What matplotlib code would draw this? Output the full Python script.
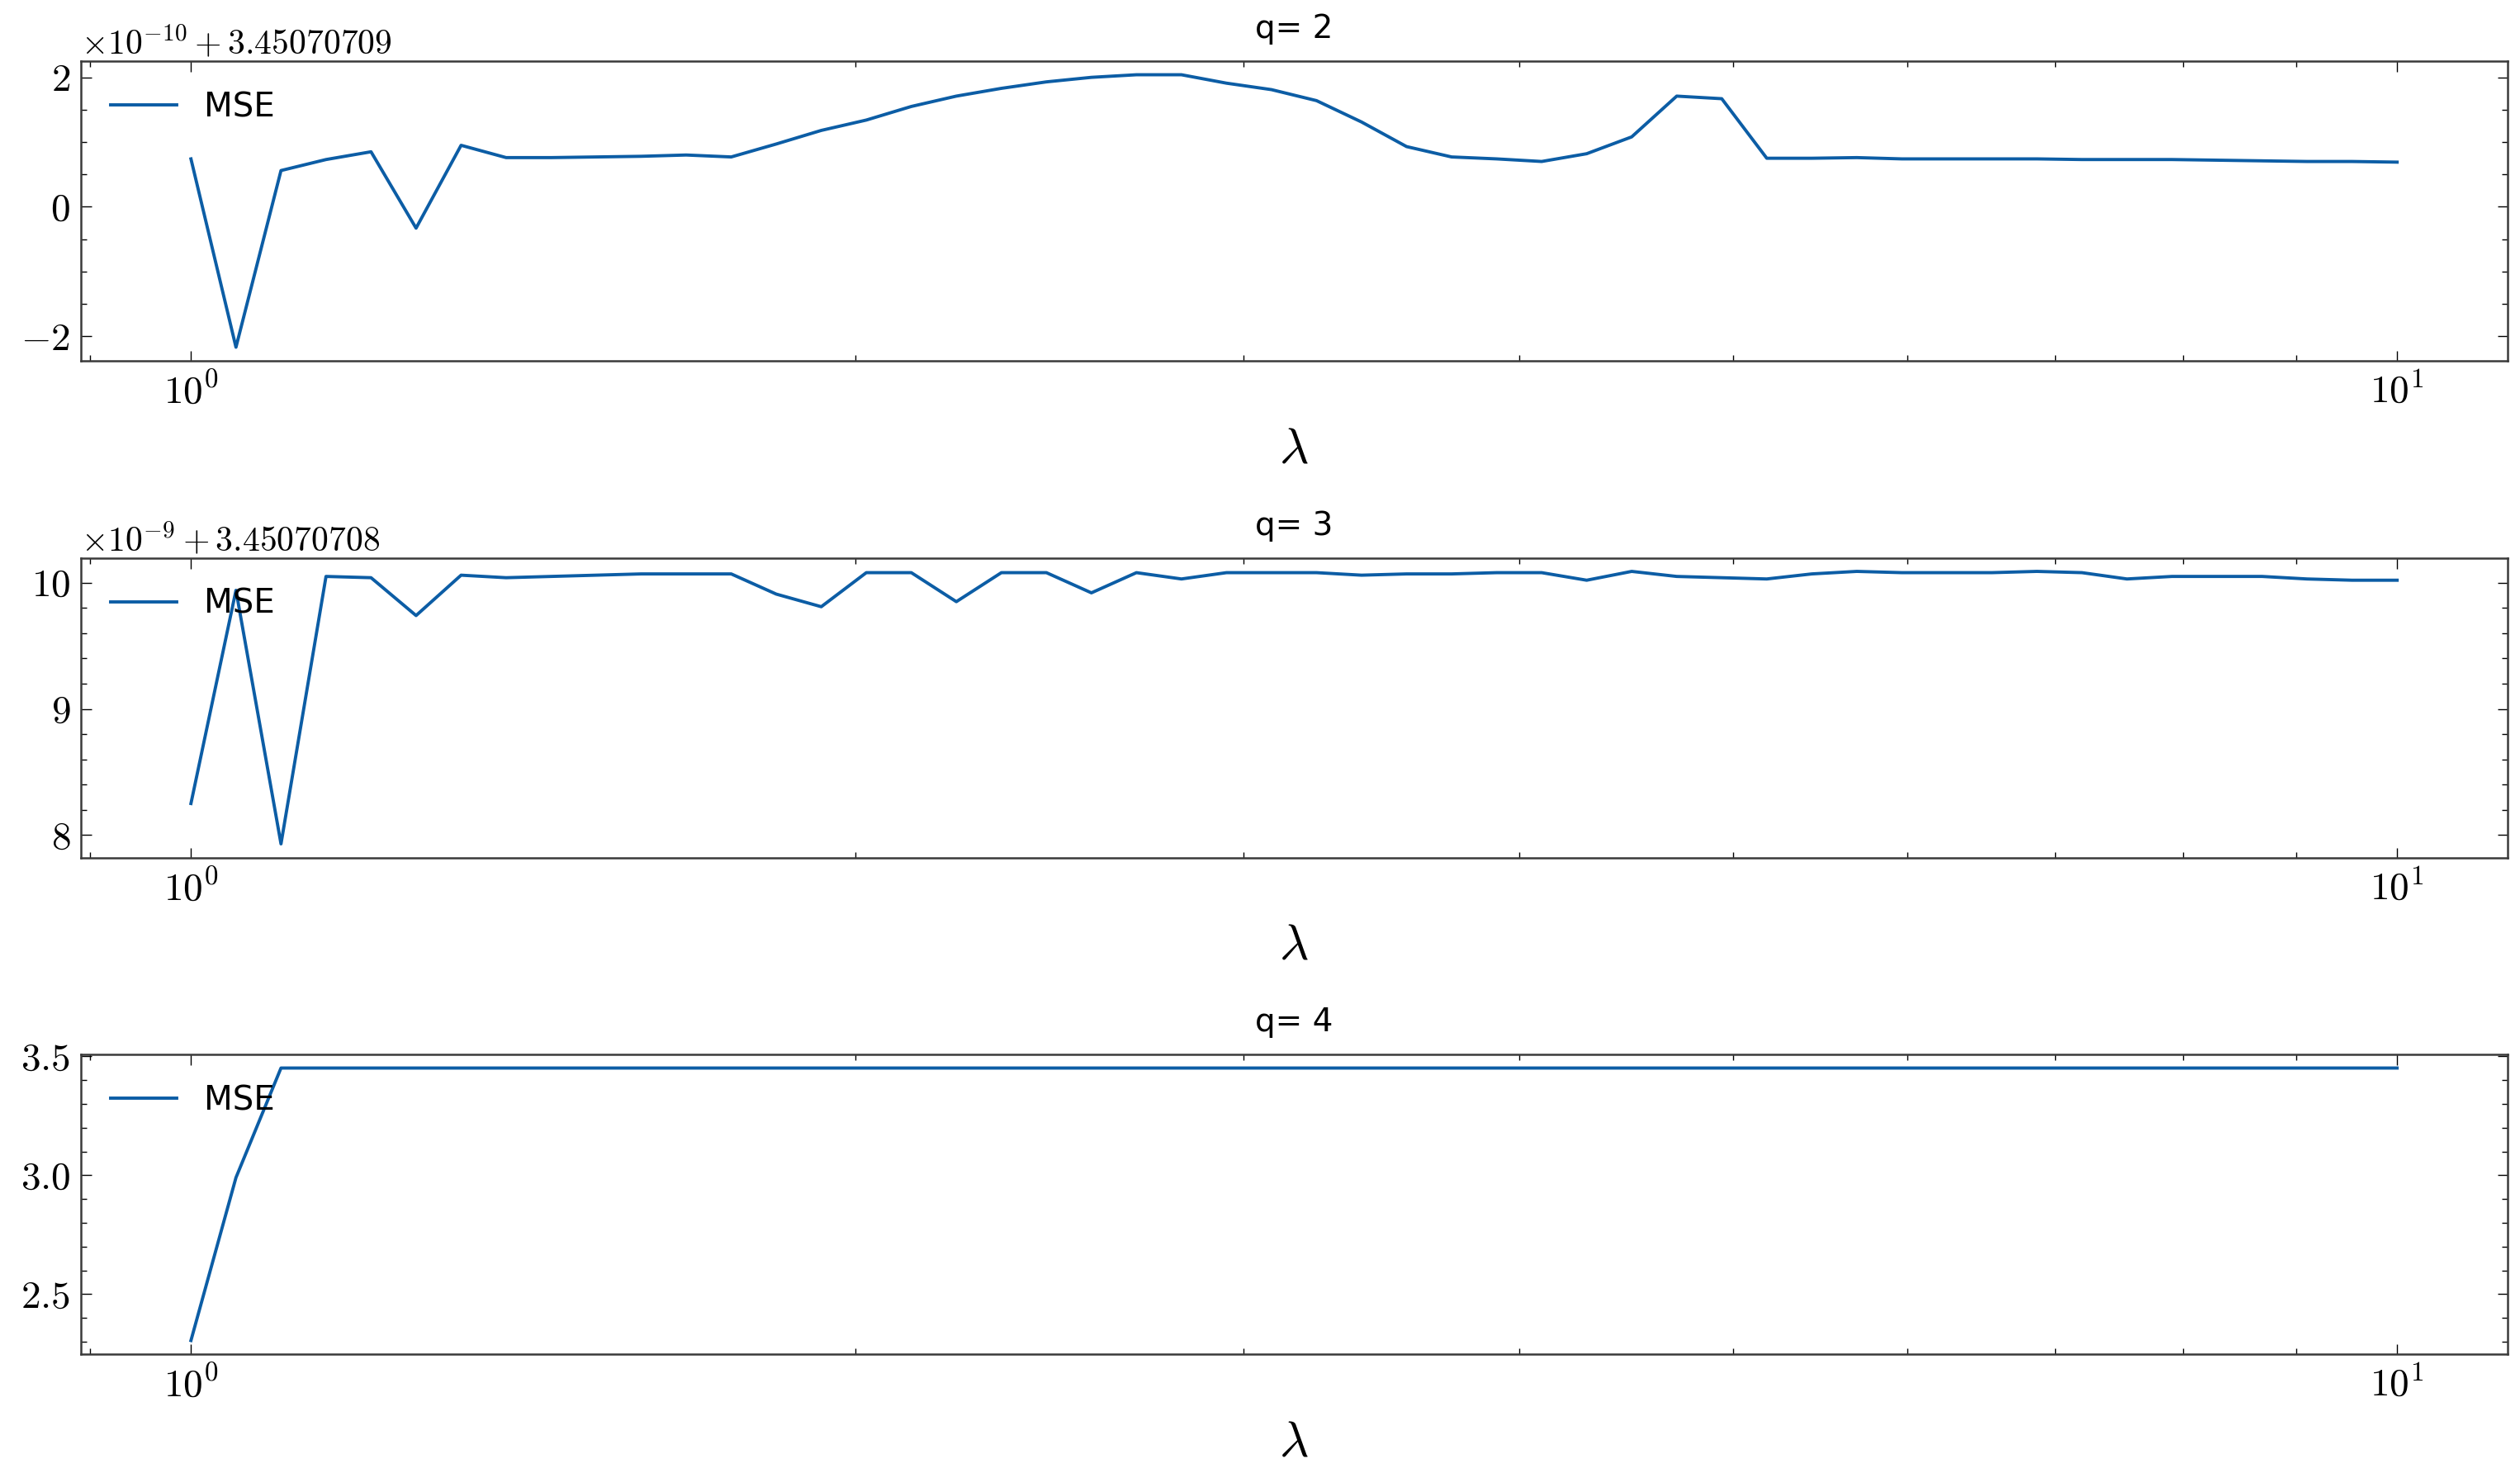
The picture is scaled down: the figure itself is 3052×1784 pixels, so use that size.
import matplotlib
matplotlib.use("Agg")
import matplotlib.pyplot as plt
import numpy as np
from matplotlib.ticker import AutoMinorLocator, ScalarFormatter

# lambda grid: 50 log-spaced points between 10^0 and 10^1
lam = np.logspace(0, 1, 50)

# q = 2 : MSE = 3.45070709 + dev * 1e-10
q2_offset = 3.45070709
q2_dev = [0.74, -2.17, 0.56, 0.73, 0.85, -0.33, 0.95, 0.76, 0.76, 0.77,
          0.78, 0.80, 0.77, 0.97, 1.18, 1.34, 1.55, 1.71, 1.83, 1.93,
          2.00, 2.04, 2.04, 1.91, 1.81, 1.64, 1.31, 0.93, 0.77, 0.74,
          0.70, 0.82, 1.08, 1.71, 1.67, 0.75, 0.75, 0.76, 0.74, 0.74,
          0.74, 0.74, 0.73, 0.73, 0.73, 0.72, 0.71, 0.70, 0.70, 0.69]

# q = 3 : MSE = 3.45070708 + dev * 1e-9
q3_offset = 3.45070708
q3_dev = [8.25, 9.94, 7.93, 10.05, 10.04, 9.74, 10.06, 10.04, 10.05, 10.06,
          10.07, 10.07, 10.07, 9.91, 9.81, 10.08, 10.08, 9.85, 10.08, 10.08,
          9.92, 10.08, 10.03, 10.08, 10.08, 10.08, 10.06, 10.07, 10.07, 10.08,
          10.08, 10.02, 10.09, 10.05, 10.04, 10.03, 10.07, 10.09, 10.08, 10.08,
          10.08, 10.09, 10.08, 10.03, 10.05, 10.05, 10.05, 10.03, 10.02, 10.02]

# q = 4 : MSE
q4_mse = [2.305, 2.99, 3.4507, 3.4507, 3.4507, 3.4507, 3.4507, 3.4507, 3.4507, 3.4507,
          3.4507, 3.4507, 3.4507, 3.4507, 3.4507, 3.4507, 3.4507, 3.4507, 3.4507, 3.4507,
          3.4507, 3.4507, 3.4507, 3.4507, 3.4507, 3.4507, 3.4507, 3.4507, 3.4507, 3.4507,
          3.4507, 3.4507, 3.4507, 3.4507, 3.4507, 3.4507, 3.4507, 3.4507, 3.4507, 3.4507,
          3.4507, 3.4507, 3.4507, 3.4507, 3.4507, 3.4507, 3.4507, 3.4507, 3.4507, 3.4507]

q2_mse = q2_offset + np.array(q2_dev) * 1e-10
q3_mse = q3_offset + np.array(q3_dev) * 1e-9


class SpacedOffset(ScalarFormatter):
    # put spaces round the "+" of the offset text
    def get_offset(self):
        s = super().get_offset()
        return s.replace(r'\mathdefault{+', r'+\mathdefault{')


plt.rcParams['mathtext.fontset'] = 'cm'
plt.rcParams['axes.formatter.use_mathtext'] = True
plt.rcParams['font.size'] = 14
plt.rcParams['xtick.direction'] = 'in'
plt.rcParams['ytick.direction'] = 'in'
plt.rcParams['xtick.top'] = True
plt.rcParams['ytick.right'] = True
plt.rcParams['xtick.major.size'] = 4.5
plt.rcParams['ytick.major.size'] = 4.5
plt.rcParams['xtick.minor.size'] = 2.5
plt.rcParams['ytick.minor.size'] = 2.5
plt.rcParams['xtick.major.width'] = 0.5
plt.rcParams['ytick.major.width'] = 0.5
plt.rcParams['xtick.minor.width'] = 0.5
plt.rcParams['ytick.minor.width'] = 0.5
plt.rcParams['xtick.major.pad'] = 5
plt.rcParams['ytick.major.pad'] = 4.5
plt.rcParams['axes.linewidth'] = 0.9
plt.rcParams['axes.edgecolor'] = '#3a3a3a'

fig, axes = plt.subplots(3, 1, figsize=(15.26, 8.92), dpi=200)
fig.subplots_adjust(left=0.032, right=0.995, top=0.9585, bottom=0.0807, hspace=0.657)

series = [(2, q2_mse, q2_offset), (3, q3_mse, q3_offset), (4, q4_mse, None)]

for ax, (q, mse, off) in zip(axes, series):
    ax.plot(lam, mse, color='#0C5DA5', lw=1.4, label='MSE')
    ax.set_xscale('log')
    ax.yaxis.set_minor_locator(AutoMinorLocator())
    if off is not None:
        fmt = SpacedOffset(useOffset=off, useMathText=True)
        ax.yaxis.set_major_formatter(fmt)
    ax.tick_params(axis='both', which='major', labelsize=17, labelfontfamily='cmr10')
    ot = ax.yaxis.get_offset_text()
    ot.set_fontsize(15)
    ot.set_fontfamily('cmr10')
    ax.set_title('q= ' + str(q), fontsize=14, pad=10)
    ax.set_xlabel(r'$\lambda$', fontsize=22, labelpad=6)
    ax.legend(loc='upper left', frameon=False, fontsize=14.5, borderaxespad=0.5)

fig.savefig('out.png', dpi=200)
